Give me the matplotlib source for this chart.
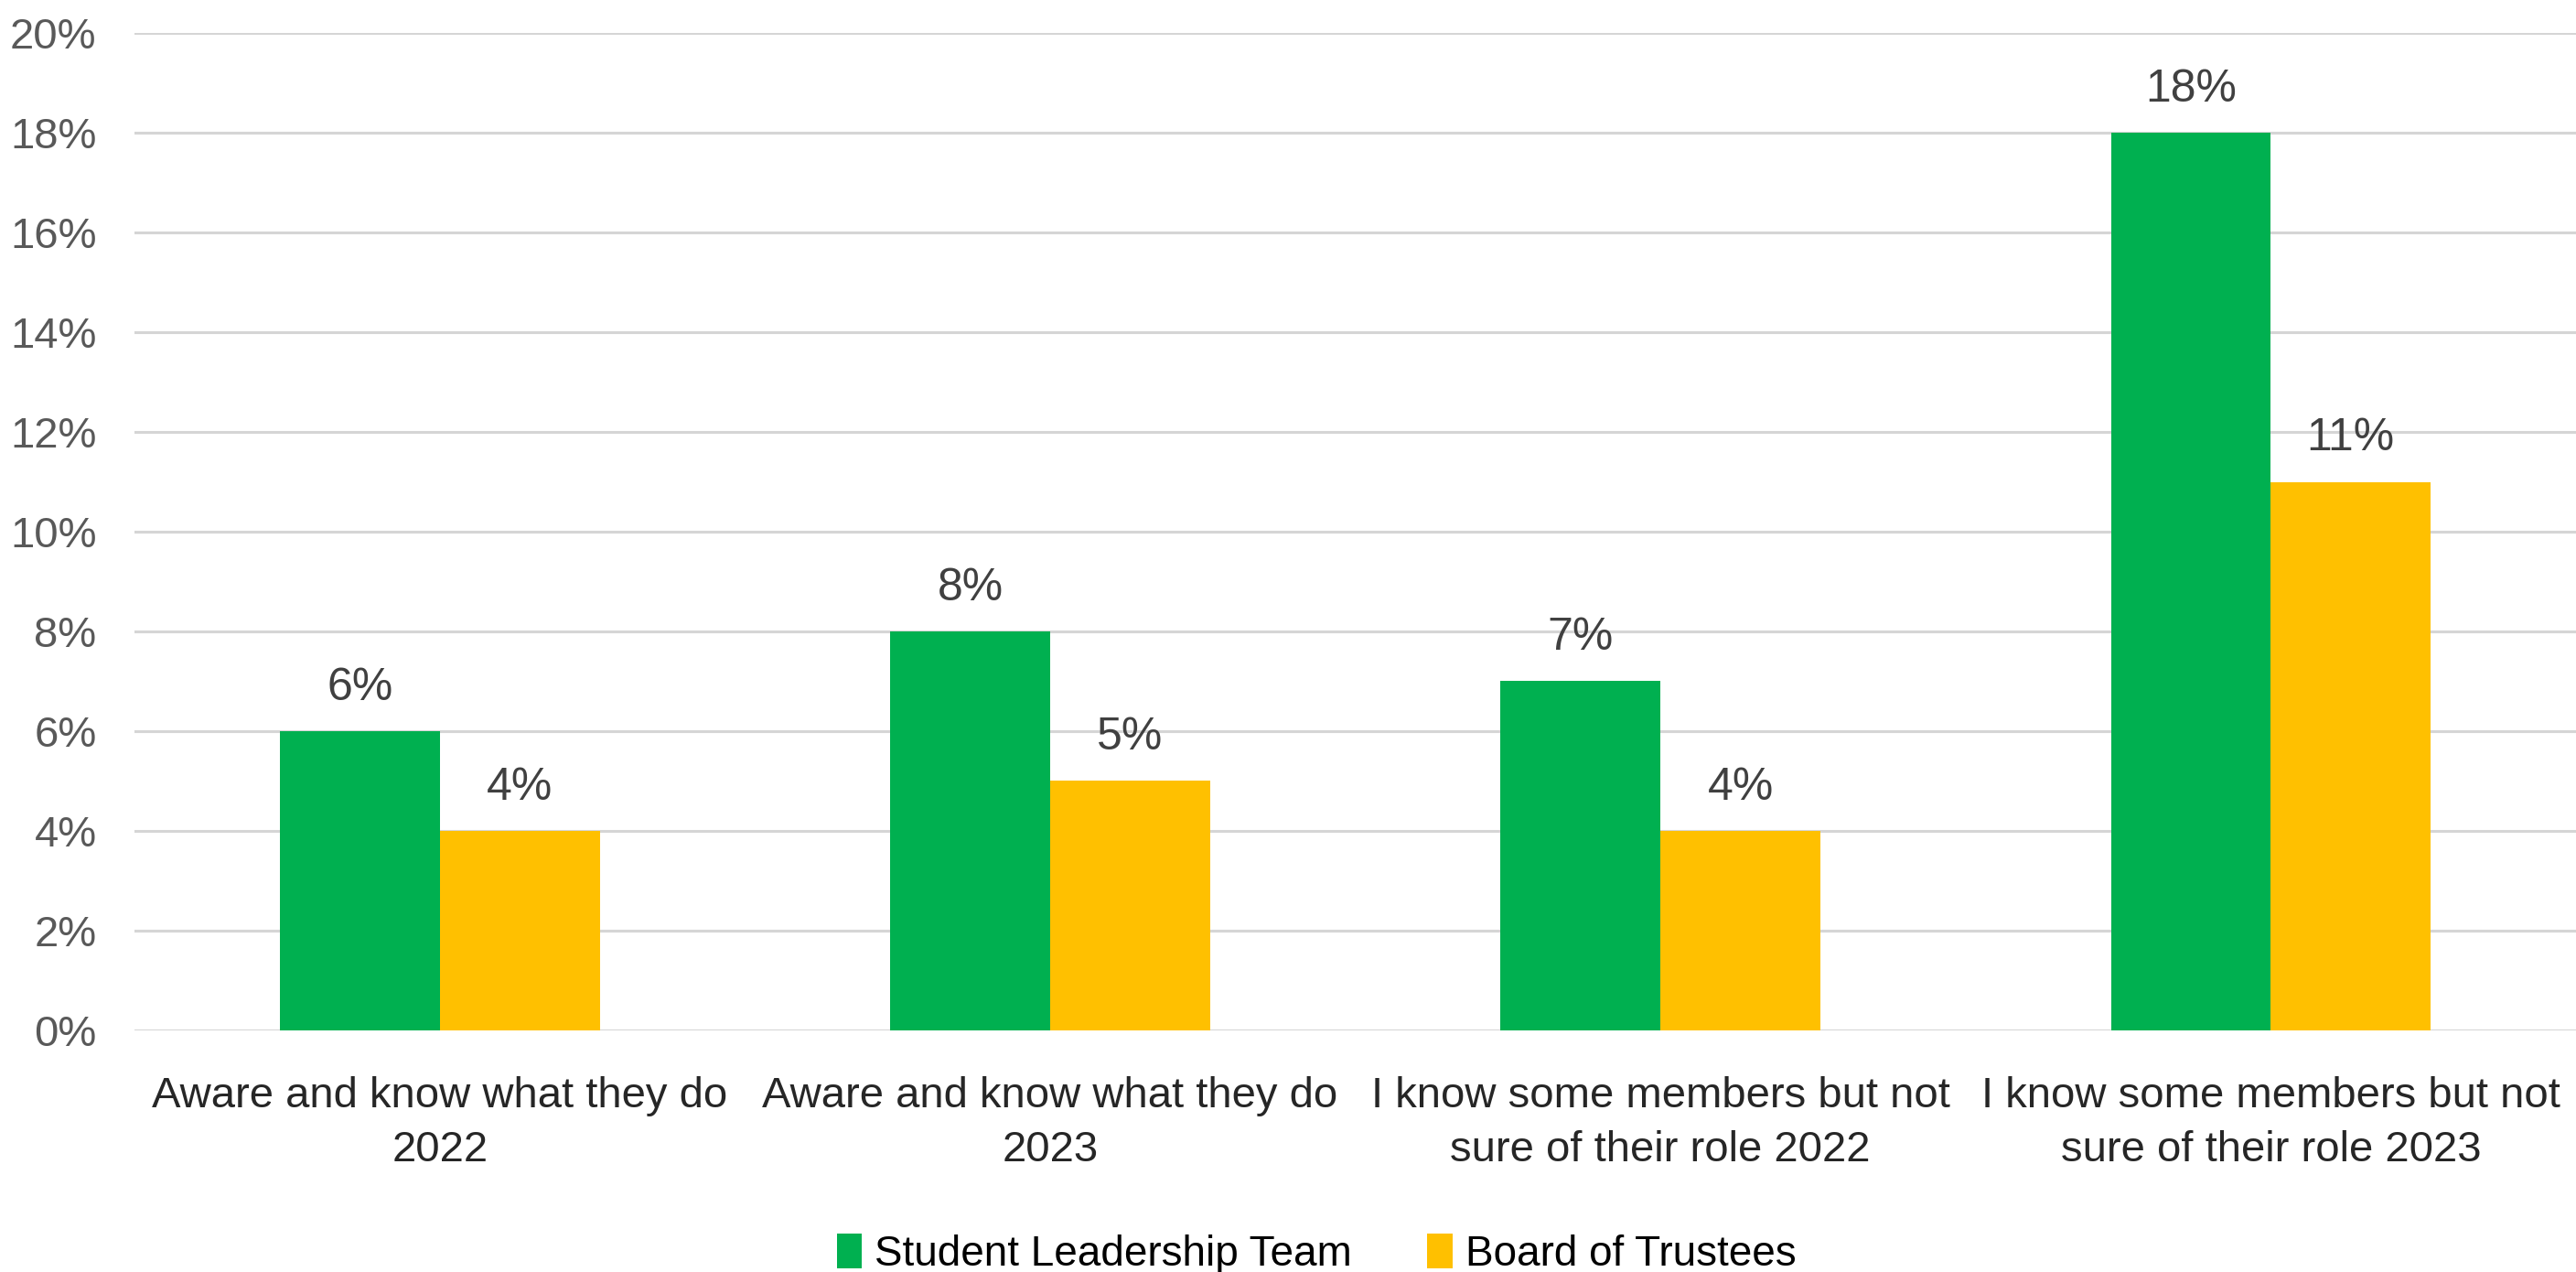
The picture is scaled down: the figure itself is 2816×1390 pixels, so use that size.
import numpy as np
from matplotlib import pyplot as plt
from matplotlib import ticker as mticker

categories = [
    'Aware and know what they do\n2022',
    'Aware and know what they do\n2023',
    'I know some members but not\nsure of their role 2022',
    'I know some members but not\nsure of their role 2023',
]
student_leadership = [6, 8, 7, 18]
board_of_trustees = [4, 5, 4, 11]
series_names = ['Student Leadership Team', 'Board of Trustees']
series_colors = ['#00B050', '#FFC000']

plt.rcParams['font.family'] = ['Liberation Sans', 'DejaVu Sans']

fig = plt.figure(figsize=(14.08, 6.95), dpi=200)
ax = fig.add_axes([0.0523, 0.19, 0.9477, 0.784])

x = np.arange(len(categories))
width = 0.262
for i, (vals, name, color) in enumerate(
    zip([student_leadership, board_of_trustees], series_names, series_colors)
):
    bars = ax.bar(x + (i - 0.5) * width, vals, width, color=color, label=name, zorder=3)
    for rect, v in zip(bars, vals):
        ax.annotate(
            f'{v}%',
            (rect.get_x() + rect.get_width() / 2, v),
            xytext=(0, 17),
            textcoords='offset points',
            ha='center',
            va='center',
            fontsize=18,
            color='#404040',
        )

ax.set_xlim(-0.5, len(categories) - 0.5)
ax.set_ylim(0, 20)
ax.set_yticks(range(0, 21, 2))
ax.yaxis.set_major_formatter(mticker.FuncFormatter(lambda v, _: f'{v:.0f}%'))
ax.grid(axis='y', color='#d5d5d5', linewidth=1.1, zorder=0)
for s in ax.spines.values():
    s.set_visible(False)
ax.tick_params(axis='y', length=0, pad=15, labelsize=17, labelcolor='#595959')
ax.tick_params(axis='x', length=0, pad=18, labelsize=17, labelcolor='#262626')
ax.set_xticks(x)
ax.set_xticklabels(categories, linespacing=1.45)

ax.legend(
    loc='lower center',
    bbox_to_anchor=(0.484, -0.283),
    ncol=2,
    frameon=False,
    fontsize=16.5,
    handlelength=0.6,
    handleheight=0.9,
    handletextpad=0.3,
    columnspacing=1.8,
)

fig.savefig('out.png', dpi=200)
